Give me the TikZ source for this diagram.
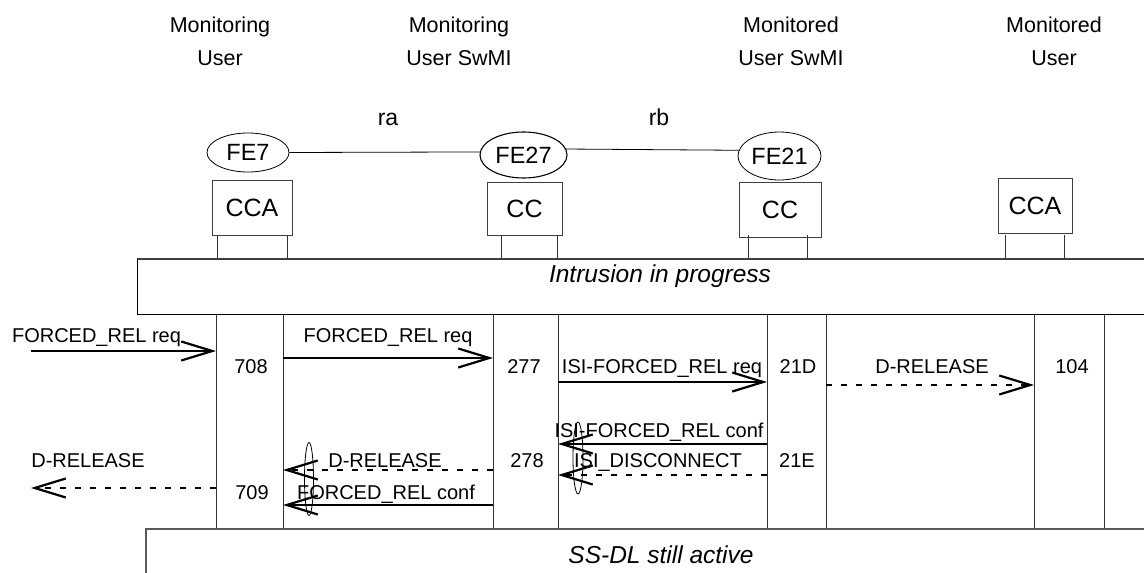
\documentclass[tikz,border=0pt]{standalone}
\usepackage{fontspec}
\setmainfont{Liberation Sans}
\usetikzlibrary{shapes.geometric,arrows.meta}

\tikzset{
  fe/.style={draw, ellipse, inner sep=0pt, line width=0.8pt, font=\fontsize{23.5}{26}\selectfont},
  fbox/.style={draw=black!75, line width=0.8pt, minimum width=78pt, minimum height=55pt, inner sep=0pt, font=\fontsize{25}{28}\selectfont},
  msg/.style={line width=2.2pt, -{Straight Barb[length=31pt,width=19pt]}},
  dmsg/.style={msg, dash pattern=on 6pt off 9pt},
  lbl/.style={anchor=base, inner sep=0pt},
  head/.style={align=center, anchor=north, inner sep=0pt, font=\fontsize{21.5}{33}\selectfont},
  state/.style={lbl, font=\fontsize{24.5}{28}\selectfont\itshape},
}

\begin{document}
\begin{tikzpicture}[x=1pt, y=-1pt, font=\fontsize{20}{24}\selectfont]
\useasboundingbox (0,0) rectangle (1144,573);
% column headings
\node[head] (hmu) at (220,16.6) {Monitoring\\User};
\node[head] (hms) at (459,16.6) {Monitoring\\User SwMI};
\node[head] (hds) at (791,16.6) {Monitored\\User SwMI};
\node[head] (hdu) at (1054,16.6) {Monitored\\User};

% functional entities
\node[fe, minimum width=82pt, minimum height=39pt] (fe7) at (248,152.5) {FE7};
\node[fe, line width=1.1pt, minimum width=87pt, minimum height=46pt] (fe27) at (523.5,155) {FE27};
\node[fe, minimum width=83pt, minimum height=48pt] (fe21) at (779.5,156) {FE21};
\draw[line width=0.8pt] (fe7.east) -- (fe27.176); % ra
\draw[line width=0.8pt] (fe27.8) -- (fe21.172); % rb
\node[lbl, font=\fontsize{23}{26}\selectfont] (ra) at (388,125) {ra};
\node[lbl, font=\fontsize{23}{26}\selectfont] (rb) at (659,125) {rb};

% call control boxes
\node[fbox, minimum width=80pt] (cca1) at (252,207.5) {CCA};
\node[fbox, minimum width=75pt, minimum height=53pt] (cc1) at (524.5,208.5) {CC};
\node[fbox, minimum width=82pt] (cc2) at (780,209.5) {CC};
\node[fbox, minimum width=74pt] (cca2) at (1035,205.5) {CCA};
\foreach \x in {217,287,501,557,748,807,1005,1064}
  \draw[line width=0.8pt, black!80] (\x,235) -- (\x,259);

% intrusion in progress
\draw[line width=1.8pt, black!75] (137,259) -- (1150,259);
\draw[line width=0.9pt] (137,259) -- (137,314) -- (1150,314);
\node[state] (intr) at (660,282) {Intrusion in progress};

% lifelines
\foreach \n/\x in {1/216,2/283,3/493,4/558,5/767,6/826,7/1034,8/1104} {
  \coordinate (l\n) at (\x,314);
  \draw[line width=0.8pt, black!80] (l\n) -- ++(0,215);
}

% messages
\coordinate (m1) at (31,351);
\draw[msg] (m1) -- (m1 -| l1);
\node[lbl] (t1) at (96.5,342) {FORCED\_REL req};
\coordinate (m2) at (283,358);
\draw[msg] (m2) -- (m2 -| l3);
\node[lbl] (t2) at (388,342) {FORCED\_REL req};
\coordinate (m3) at (558,382);
\draw[msg] (m3) -- (m3 -| l5);
\node[lbl] (t3) at (662,373) {ISI-FORCED\_REL req};
\coordinate (m4) at (826,385);
\draw[dmsg] (m4) -- (m4 -| l7);
\node[lbl] (t4) at (932,373) {D-RELEASE};
\coordinate (m5) at (767,444);
\draw[msg] (m5) -- (m5 -| l4);
\node[lbl] (t5) at (659,437) {ISI-FORCED\_REL conf};
\coordinate (m6) at (767,475);
\draw[dmsg] (m6) -- (m6 -| l4);
\node[lbl] (t6) at (658,467) {ISI\_DISCONNECT};
\coordinate (m7) at (493,470);
\draw[dmsg] (m7) -- (m7 -| l2);
\node[lbl] (t7) at (385,467) {D-RELEASE};
\coordinate (m8) at (493,505);
\draw[msg] (m8) -- (m8 -| l2);
\node[lbl] (t8) at (386,499) {FORCED\_REL conf};
\coordinate (m9) at (216,488);
\coordinate (m9e) at (31,488);
\draw[dmsg] (m9) -- (m9e);
\node[lbl] (t9) at (88,467) {D-RELEASE};
\draw[line width=0.8pt] (309,479) ellipse [x radius=4.5, y radius=36.5];
\draw[line width=0.8pt] (578,458) ellipse [x radius=5, y radius=36];

% state numbers
\node[lbl] (s708) at (251,373) {708};
\node[lbl] (s277) at (524,373) {277};
\node[lbl] (s21D) at (798,373) {21D};
\node[lbl] (s104) at (1072,373) {104};
\node[lbl] (s278) at (527,467) {278};
\node[lbl] (s21E) at (797,467) {21E};
\node[lbl] (s709) at (252,499) {709};

% still active
\draw[line width=1.1pt, black!65] (146,580) -- (146,529) -- (1150,529);
\node[state] (ssdl) at (661,563) {SS-DL still active};
\end{tikzpicture}
\end{document}
